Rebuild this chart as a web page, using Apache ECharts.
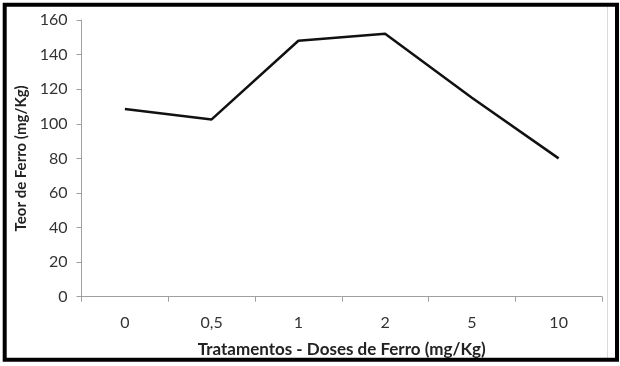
<!DOCTYPE html>
<html>
<head>
<meta charset="utf-8">
<script src="https://cdn.jsdelivr.net/npm/echarts@6/dist/echarts.min.js"></script>
<style>
html,body{margin:0;padding:0;background:#fff;}
#chart{width:620px;height:366px;}
</style>
</head>
<body>
<div id="chart"></div>
<script>
const categories = ['0', '0,5', '1', '2', '5', '10'];
const teorFerro = [108.5, 102.5, 148, 152, 115, 80];
const yTicks = [0, 20, 40, 60, 80, 100, 120, 140, 160];
const xTitle = 'Tratamentos - Doses de Ferro (mg/Kg)';
const yTitle = 'Teor de Ferro (mg/Kg)';

const FONT = 'Lato';
const chart = echarts.init(document.getElementById('chart'));
chart.setOption({
  animation: false,
  backgroundColor: '#fff',
  grid: { left: 81.5, right: 18, top: 20, bottom: 69.3 },
  xAxis: {
    type: 'category',
    data: categories,
    boundaryGap: true,
    name: xTitle,
    nameLocation: 'middle',
    nameGap: 44,
    nameTextStyle: { fontFamily: FONT, fontWeight: 'bold', fontSize: 17, color: '#222' },
    axisLine: { lineStyle: { color: '#a0a0a0', width: 1 } },
    axisTick: { show: true, alignWithLabel: false, length: 5, lineStyle: { color: '#a0a0a0' } },
    axisLabel: { fontFamily: FONT, fontSize: 16, color: '#333', margin: 18 },
    splitLine: { show: false }
  },
  yAxis: {
    type: 'value',
    min: yTicks[0],
    max: yTicks[yTicks.length - 1],
    interval: yTicks[1] - yTicks[0],
    name: yTitle,
    nameLocation: 'middle',
    nameGap: 53,
    nameTextStyle: { fontFamily: FONT, fontWeight: 'bold', fontSize: 15, color: '#222' },
    axisLine: { show: true, lineStyle: { color: '#a0a0a0', width: 1 } },
    axisTick: { show: true, length: 5, lineStyle: { color: '#a0a0a0' } },
    axisLabel: { fontFamily: FONT, fontSize: 16, color: '#333', margin: 14 },
    splitLine: { show: false }
  },
  series: [{
    type: 'line',
    data: teorFerro,
    showSymbol: false,
    symbol: 'none',
    lineStyle: { color: '#111', width: 2.5 }
  }],
  graphic: [
    { type: 'line', shape: { x1: 607.5, y1: 6, x2: 607.5, y2: 358 }, style: { stroke: '#d9d9d9', lineWidth: 1 } },
    { type: 'rect', shape: { x: 4.7, y: 4.7, width: 612.3, height: 355 }, style: { fill: null, stroke: '#000', lineWidth: 4 } }
  ]
});
</script>
</body>
</html>
